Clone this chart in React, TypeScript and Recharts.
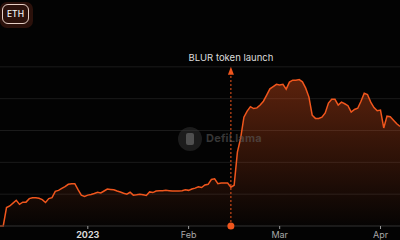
import {
  Area,
  AreaChart,
  CartesianGrid,
  ReferenceDot,
  ReferenceLine,
  XAxis,
  YAxis,
} from "recharts";

const DAY = 86_400_000;
const START = Date.UTC(2022, 11, 5);

// daily values from Dec 5 2022 (arbitrary units, 1 = one gridline)
const values = [
  0, 0, 0.58, 0.63, 0.72, 0.81, 0.68, 0.75, 0.75, 0.86, 0.89, 0.89, 0.87, 0.83,
  0.74, 0.86, 0.89, 1.09, 1.12, 1.18, 1.24, 1.31, 1.33, 1.33, 1.14, 0.97, 0.93,
  0.97, 0.99, 1.02, 1.06, 1.04, 1.1, 1.16, 1.15, 1.14, 1.1, 1.07, 1.03, 1.0,
  1.06, 0.97, 0.98, 1.0, 0.98, 0.96, 1.07, 1.05, 1.1, 1.11, 1.11, 1.12, 1.11,
  1.1, 1.1, 1.1, 1.11, 1.14, 1.12, 1.16, 1.19, 1.23, 1.21, 1.29, 1.31, 1.46,
  1.48, 1.33, 1.35, 1.35, 1.35, 1.22, 1.28, 2.32, 2.76, 3.42, 3.61, 3.75, 3.69,
  3.71, 3.8, 3.92, 4.11, 4.31, 4.38, 4.45, 4.43, 4.45, 4.3, 4.52, 4.58, 4.58,
  4.6, 4.53, 4.33, 4.05, 3.48, 3.38, 3.38, 3.42, 3.55, 3.86, 3.98, 3.98, 3.8,
  3.89, 3.84, 3.78, 3.58, 3.66, 3.7, 3.92, 4.17, 4.13, 3.89, 3.72, 3.62, 3.64,
  3.08, 3.45, 3.43, 3.32, 3.21, 3.13,
];

const tickDates = ["2023-01-01", "2023-02-01", "2023-03-01", "2023-04-01"];
const tickLabels = ["2023", "Feb", "Mar", "Apr"];
const gridTicks = [1, 2, 3, 4, 5];

const eventDate = "2023-02-14";
const eventLabel = "BLUR token launch";
const tokenLabel = "ETH";

const data = values.map((v, i) => ({t: START + i * DAY, value: v}));
const xTicks = tickDates.map((d) => Date.parse(d));
const eventT = Date.parse(eventDate);

const ORANGE = "#f0561d";

function Tick(props: any) {
  const {x, payload} = props;
  const idx = xTicks.indexOf(payload.value);
  const year = idx === 0;
  return (
    <text
      x={x}
      y={238}
      textAnchor="middle"
      fontSize={9}
      fontWeight={year ? 700 : 400}
      fill={year ? "#d8d8d8" : "#a8a8a8"}
    >
      {tickLabels[idx]}
    </text>
  );
}

function Arrow(props: any) {
  const {cx, cy} = props;
  return (
    <g>
      <polygon
        points={`${cx},${cy} ${cx - 3},${cy + 8} ${cx + 3},${cy + 8}`}
        fill={ORANGE}
      />
      <text
        x={cx}
        y={cy - 6}
        textAnchor="middle"
        fontSize={9.5}
        fill="#dcdcdc"
      >
        {eventLabel}
      </text>
    </g>
  );
}

export default function App() {
  return (
    <div
      style={{
        position: "fixed",
        left: 0,
        top: 0,
        width: 400,
        height: 240,
        background: "#030303",
        fontFamily: "Inter, sans-serif",
        overflow: "hidden",
      }}
    >
      <AreaChart
        width={400}
        height={240}
        data={data}
        margin={{top: 35, right: 0, bottom: 0, left: 0}}
      >
        <defs>
          <linearGradient id="fillOrange" x1="0" y1="0" x2="0" y2="1">
            <stop offset="0%" stopColor={ORANGE} stopOpacity={0.62} />
            <stop offset="100%" stopColor={ORANGE} stopOpacity={0.02} />
          </linearGradient>
        </defs>
        <CartesianGrid
          vertical={false}
          stroke="#1b1b1b"
          horizontalValues={gridTicks}
        />
        <XAxis
          dataKey="t"
          type="number"
          scale="time"
          domain={[START, START + 123 * DAY]}
          ticks={xTicks}
          interval={0}
          tick={<Tick />}
          tickSize={3}
          tickLine={{stroke: "#9a9a9a"}}
          axisLine={{stroke: "#333"}}
          height={14}
          allowDataOverflow
        />
        <YAxis hide domain={[0, 6]} ticks={gridTicks} />
        <Area
          type="linear"
          dataKey="value"
          stroke={ORANGE}
          strokeWidth={1.5}
          fill="url(#fillOrange)"
          isAnimationActive={false}
        />
        <ReferenceLine
          segment={[
            {x: eventT, y: 0},
            {x: eventT, y: 4.78},
          ]}
          stroke={ORANGE}
          strokeDasharray="2 2"
          strokeWidth={1}
        />
        <ReferenceDot
          x={eventT}
          y={0}
          r={3.5}
          fill={ORANGE}
          stroke="none"
        />
        <ReferenceDot x={eventT} y={5} shape={<Arrow />} />
      </AreaChart>

      <div
        style={{
          position: "absolute",
          left: 0,
          top: 2,
          width: 33,
          height: 26,
          borderRadius: 7,
          background: "#2b110b",
        }}
      >
        <div
          style={{
            position: "absolute",
            left: 2,
            top: 2,
            width: 25,
            height: 18,
            borderRadius: 6,
            border: "1.5px solid #e6cfc6",
            color: "#f2f2f2",
            fontSize: 8.5,
            fontWeight: 500,
            lineHeight: "18px",
            textAlign: "center",
          }}
        >
          {tokenLabel}
        </div>
      </div>

      <div
        style={{
          position: "absolute",
          left: 178,
          top: 127,
          width: 24,
          height: 24,
          borderRadius: 12,
          background: "rgba(60,60,60,0.45)",
        }}
      >
        <div
          style={{
            position: "absolute",
            left: 8,
            top: 6,
            width: 8,
            height: 12,
            borderRadius: 2,
            background: "rgba(130,130,130,0.5)",
          }}
        />
      </div>
      <div
        style={{
          position: "absolute",
          left: 206,
          top: 131,
          color: "rgba(90,90,90,0.6)",
          fontSize: 11,
          fontWeight: 700,
          letterSpacing: 0.2,
        }}
      >
        DefiLlama
      </div>
    </div>
  );
}
